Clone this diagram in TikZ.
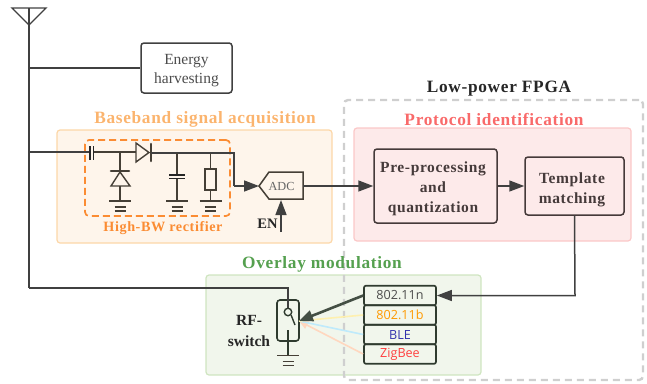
\documentclass[tikz,border=0pt]{standalone}
\usepackage{fontspec}
\setmainfont{Liberation Serif}
\newfontfamily\spaced[LetterSpace=4]{Liberation Serif}
\newfontfamily\sanslab{Open Sans}
\usetikzlibrary{arrows.meta,calc}
\definecolor{wire}{HTML}{404040}
\definecolor{cir}{HTML}{453F36}
\definecolor{orng}{HTML}{FB8C33}
\definecolor{bbfill}{HTML}{FEF5EB}
\definecolor{bbline}{HTML}{FCD7A8}
\definecolor{bbtext}{HTML}{FBB46E}
\definecolor{pifill}{HTML}{FDEAEA}
\definecolor{piline}{HTML}{FBC8C8}
\definecolor{pitext}{HTML}{F96A6A}
\definecolor{omfill}{HTML}{F1F6EC}
\definecolor{omline}{HTML}{CFE5C0}
\definecolor{omtext}{HTML}{55A04F}
\definecolor{fpgagray}{HTML}{CFCFCF}
\definecolor{boxdark}{HTML}{453A3A}
\definecolor{swdark}{HTML}{2F3B2F}
\tikzset{
  x=1pt,y=-1pt,
  wireline/.style={draw=wire,line width=1.5pt},
  cirline/.style={draw=cir,line width=1.4pt},
  tip/.style={-{Triangle[length=15pt,width=11pt]}},
  panel/.style={rectangle,rounded corners=3pt,line width=1.2pt,inner sep=0pt},
  blackbox/.style={rectangle,rounded corners=3pt,line width=1.5pt,draw=#1,inner sep=0pt,align=center},
  title/.style={font=\spaced\bfseries\fontsize{17.3}{20}\selectfont},
  sub/.style={font=\spaced\bfseries\fontsize{14.2}{18}\selectfont},
  blocktext/.style={align=center,inner sep=0pt,text=boxdark,font=\spaced\bfseries\fontsize{15.5}{20}\selectfont},
  proto/.style={rectangle,rounded corners=2pt,draw=swdark,line width=1.7pt,minimum width=72pt,minimum height=19.6pt,inner sep=0pt,font=\sanslab\fontsize{12.6}{14}\selectfont},
  gndbar/.style={draw=cir,line width=1.6pt},
}
\newcommand{\gnd}[3]{% x, y, half width
  \draw[gndbar] (#1-#3,#2) -- (#1+#3,#2);
  \draw[gndbar] (#1-5.5,#2+6) -- (#1+5.5,#2+6);
  \draw[gndbar] (#1-5.5,#2+10) -- (#1+5.5,#2+10);
}
\newcommand{\lowered}[1]{\raisebox{-1.5pt}{#1}}
\begin{document}
\begin{tikzpicture}
\useasboundingbox (0,0) rectangle (647,383);
% panels
\node[panel,draw=bbline,fill=bbfill,minimum width=275pt,minimum height=113pt] (bb) at (194.5,186.5) {};
\node[panel,draw=piline,fill=pifill,minimum width=277pt,minimum height=113pt] (pi) at (492.5,184.5) {};
\node[panel,draw=omline,fill=omfill,minimum width=275pt,minimum height=100pt] (om) at (343.5,325) {};
\node[rectangle,rounded corners=4pt,draw=fpgagray,line width=2.4pt,dash pattern=on 7pt off 5pt,minimum width=299pt,minimum height=280pt] (fpga) at (493.5,240) {};
\node[rectangle,rounded corners=4pt,draw=orng,line width=1.7pt,dash pattern=on 7pt off 4pt,minimum width=145pt,minimum height=76pt] (rect) at (157.5,178) {};
% titles
\node[title,text=bbtext] (tbb) at (205,119.5) {Baseband signal acquisition};
\node[title,text=pitext] (tpi) at (494,119.5) {Protocol identification};
\node[title,text=omtext] (tom) at (322,264.5) {Overlay modulation};
\node[title,text=black!85] (tfp) at (499,89) {Low-power FPGA};
\node[sub,text=orng] (thb) at (163,228) {High-BW rectifier};
% antenna
\coordinate (ant) at (29,8);
\coordinate (antb) at (29,288);
\draw[wire,line width=1.4pt] (12,8) -- (46,8) -- (29,25) -- cycle;
\draw[wireline] (ant) -- (antb);
% energy
\node[blackbox=wire,minimum width=91pt,minimum height=50pt] (eh) at (186.5,68) {};
\node[align=center,inner sep=0pt,font=\fontsize{15.5}{19}\selectfont,text=black!70] (ehtext) at (186.5,71) {Energy\\harvesting};
\draw[wireline] (29,68) -- (eh.west);
% front wire and rectifier
\coordinate (capa) at (90,152);
\coordinate (capb) at (93.5,152);
\draw[wireline] (29,152) -- (capa);
\draw[cirline] (capb) -- (136,152);
\draw[draw=black!85,line width=1.7pt] (90,146) -- (90,160) (93.5,146) -- (93.5,160);
\draw[cirline] (136,143) -- (136,162) -- (149,152.5) -- cycle;
\draw[draw=cir,line width=2.6pt,line cap=round] (151,144) -- (151,161);
\draw[wireline] (151,153) -- (234,153) -- (234,186);
% shunt diode
\draw[cirline] (120,152) -- (120,171);
\draw[draw=cir,line width=2.6pt,line cap=round] (111,171) -- (129,171);
\draw[cirline] (120,172) -- (111,186) -- (130,186) -- cycle;
\draw[cirline] (120,186) -- (120,201);
\gnd{120}{201}{11}
% capacitor
\draw[cirline] (177,153) -- (177,175);
\draw[draw=black!85,line width=1.7pt] (169,175) -- (185,175) (169,178.5) -- (185,178.5);
\draw[cirline] (177,178.5) -- (177,201);
\gnd{177}{201}{11}
% resistor
\node[rectangle,draw=cir,line width=1.5pt,minimum width=11pt,minimum height=21pt,inner sep=0pt] (res) at (210.5,179.5) {};
\draw[cirline] (210.5,153) -- (res.north);
\draw[cirline] (res.south) -- (210.5,201);
\gnd{210.5}{201}{11}
% ADC
\draw[draw=cir,line width=1.5pt] (259,186) -- (269,172) -- (303,172) -- (303,199) -- (269,199) -- cycle;
\node[font=\fontsize{12.3}{14}\selectfont,text=black!60,inner sep=0pt] (adc) at (281.5,186.5) {ADC};
\coordinate (adcin) at (259,186);
\coordinate (adcout) at (303,186);
\coordinate (adcen) at (281,200);
\coordinate (enb) at (281,232);
\draw[wireline,tip] (234,186) -- (adcin);
\draw[wireline,tip] (enb) -- (adcen);
\node[font=\bfseries\fontsize{14.5}{16}\selectfont,text=black!85,inner sep=0pt] (en) at (267.5,224) {EN};
% FPGA blocks
\node[blackbox=boxdark,minimum width=123pt,minimum height=74pt] (pre) at (435.5,186) {};
\node[blocktext] (pretext) at (433,189) {Pre-processing\\and\\quantization};
\node[blackbox=boxdark,minimum width=99pt,minimum height=58pt] (tm) at (574.5,186) {};
\node[blocktext] (tmtext) at (572,190) {Template\\matching};
\draw[wireline,tip] (adcout) -- (pre.west);
\draw[wireline,tip] (pre.east) -- (tm.west);
% protocol boxes
\node[proto,text=black!70] (n) at (400,295.5) {\lowered{802.11n}};
\node[proto,text=orange!80!yellow] (b) at (400,315) {\lowered{802.11b}};
\node[proto,text=blue!60!black!80] (ble) at (400,334.5) {\lowered{BLE}};
\node[proto,text=red!75!white] (zig) at (400,354) {\lowered{ZigBee}};
\draw[wireline,tip] (tm.south) -- (575,295.5) -- (n.east);
% RF switch
\node[rectangle,rounded corners=3pt,draw=swdark,line width=1.6pt,minimum width=22pt,minimum height=41pt,inner sep=0pt] (sw) at (288,320.5) {};
\coordinate (swtip) at (299,321);
\draw[draw=wire,line width=1.4pt] (29,288) -- (288,288) -- (288,308);
\node[circle,draw=swdark,line width=1.4pt,minimum size=7.5pt,inner sep=0pt] (swc) at (288,312) {};
\draw[draw=swdark,line width=1.4pt] (swc.south east) -- (295,325);
\draw[draw=swdark,line width=1.7pt] (288,330) -- (288,355);
\gnd{288}{355.5}{11}
\node[font=\bfseries\fontsize{15.5}{21}\selectfont,align=center,text=black!85,inner sep=0pt] (rft) at (249,330.5) {RF-\\switch};
\draw[draw=red!25!orange!25,line width=1.6pt,-{Triangle[length=9pt,width=8pt]}] (zig.west) -- (swtip);
\draw[draw=cyan!25,line width=1.6pt] (ble.west) -- (swtip);
\draw[draw=yellow!70!orange!30,line width=1.6pt] (b.west) -- (swtip);
\draw[draw=swdark!90,line width=2.6pt,-{Triangle[length=14pt,width=11pt]}] (n.west) -- (swtip);
\end{tikzpicture}
\end{document}
